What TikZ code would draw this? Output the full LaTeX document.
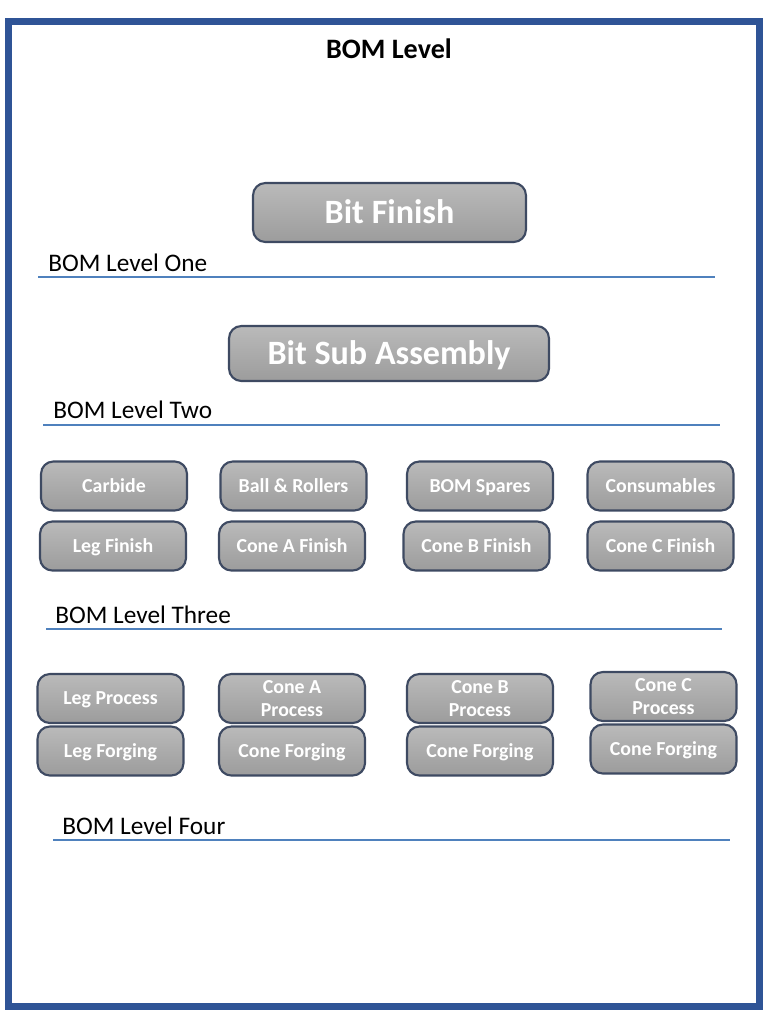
\documentclass[tikz,border=0pt]{standalone}
\usepackage{fontspec}
\setmainfont{Carlito}
\usepackage{xcolor}
\usepackage{tikz}
\usetikzlibrary{positioning}
\definecolor{framblue}{RGB}{47,84,150}
\definecolor{rulblue}{RGB}{79,129,189}
\definecolor{boxgray}{RGB}{166,166,166}
\definecolor{boxtop}{RGB}{186,186,186}
\definecolor{boxbot}{RGB}{156,156,156}
\definecolor{boxedge}{RGB}{62,74,98}

\begin{document}
\begin{tikzpicture}[
    x=0.02cm, y=-0.02cm,
    bombox/.style={draw=boxedge, line width=1.2pt, rounded corners=7pt, top color=boxtop, middle color=boxgray, bottom color=boxbot, text=white, font=\fontsize{11.3}{13}\selectfont\bfseries, align=center, minimum width=2.92cm, minimum height=0.98cm, inner sep=1pt},
    onebox/.style={bombox, text height=7.3pt, text depth=0pt},
    bigbox/.style={onebox, font=\fontsize{19.4}{22}\selectfont\bfseries, text height=12.5pt},
    lvl/.style={anchor=base west, font=\fontsize{14.4}{17}\selectfont, inner sep=0pt},
    rul/.style={draw=rulblue, line width=0.8pt}
]
  \useasboundingbox (0,0) rectangle (768,1024);
  % page frame
  \draw[framblue, line width=0.14cm] (8.5,21.5) rectangle (759.5,1006.5);

  \node[font=\fontsize{16}{18}\selectfont\bfseries, anchor=base] (title) at (389,58.5) {BOM Level};

  % level one
  \node[bigbox, minimum width=5.46cm, minimum height=1.18cm] (bitfin) at (389.5,212.5) {Bit Finish};
  \node[lvl] (lvlone) at (48,271) {BOM Level One};
  \coordinate (oneL) at (38,277);
  \coordinate (oneR) at (715,277);
  \draw[rul] (oneL) -- (oneR);

  % level two
  \node[bigbox, minimum width=6.4cm, minimum height=1.1cm] (bitsub) at (389,353.5) {Bit Sub Assembly};
  \node[lvl] (lvltwo) at (53,418) {BOM Level Two};
  \coordinate (twoL) at (43,425);
  \coordinate (twoR) at (720,425);
  \draw[rul] (twoL) -- (twoR);

  % level three
  \node[onebox] (carbide) at (114,486) {Carbide};
  \node[onebox] (balls) at (293.5,486) {Ball \& Rollers};
  \node[onebox] (spares) at (480,486) {BOM Spares};
  \node[onebox] (consum) at (660.5,486) {Consumables};
  \node[onebox] (legfin) at (113,546) {Leg Finish};
  \node[onebox] (conea) at (292,546) {Cone A Finish};
  \node[onebox] (coneb) at (476.5,546) {Cone B Finish};
  \node[onebox] (conec) at (660.5,546) {Cone C Finish};
  \node[lvl] (lvlthree) at (55,623) {BOM Level Three};
  \coordinate (threeL) at (46,629);
  \coordinate (threeR) at (722,629);
  \draw[rul] (threeL) -- (threeR);

  % level four
  \node[onebox] (legproc) at (110.5,698.5) {Leg Process};
  \node[bombox] (coneaproc) at (292,698.5) {Cone A\\Process};
  \node[bombox] (conebproc) at (480,698.5) {Cone B\\Process};
  \node[bombox] (conecproc) at (663.5,696.5) {Cone C\\Process};
  \node[onebox] (legforg) at (110.5,751) {Leg Forging};
  \node[onebox] (coneaforg) at (292,751) {Cone Forging};
  \node[onebox] (conebforg) at (480,751) {Cone Forging};
  \node[onebox] (conecforg) at (663.5,749) {Cone Forging};
  \node[lvl] (lvlfour) at (62,834) {BOM Level Four};
  \coordinate (fourL) at (53,840);
  \coordinate (fourR) at (730,840);
  \draw[rul] (fourL) -- (fourR);
\end{tikzpicture}
\end{document}
